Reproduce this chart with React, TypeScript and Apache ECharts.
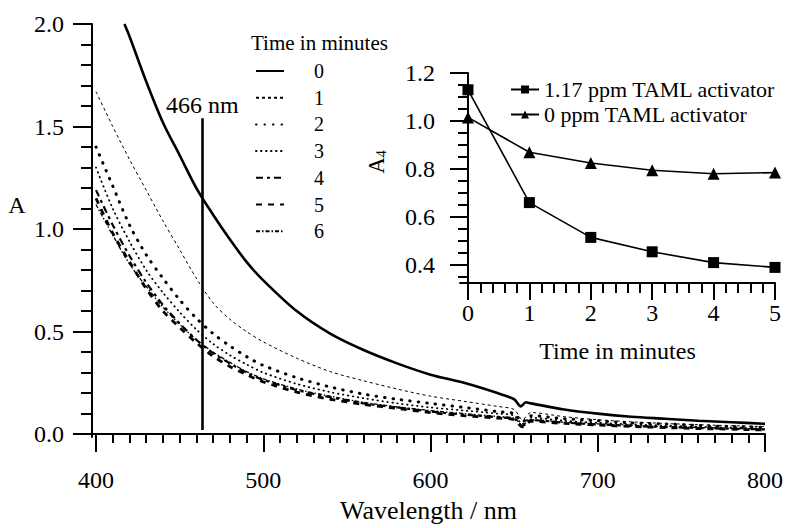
import React, { useEffect, useRef } from "react";
import * as echarts from "echarts";

// ---- Main spectra (absorbance vs wavelength) ----
const wavelengthsT0 = [417, 420, 430, 440, 450, 460, 470, 480, 490, 500, 520, 540, 560, 580, 600, 620, 640, 650, 654, 657, 660, 680, 700, 720, 740, 760, 780, 800];
const absT0 = [2.0, 1.94, 1.72, 1.52, 1.36, 1.2, 1.07, 0.95, 0.84, 0.75, 0.6, 0.49, 0.41, 0.345, 0.29, 0.25, 0.2, 0.17, 0.135, 0.155, 0.15, 0.12, 0.1, 0.085, 0.075, 0.065, 0.058, 0.05];

const wavelengths = [400, 410, 420, 430, 440, 450, 460, 470, 480, 490, 500, 520, 540, 560, 580, 600, 620, 640, 650, 655, 660, 680, 700, 720, 740, 760, 780, 800];
const absT1 = [1.67, 1.5, 1.34, 1.19, 1.04, 0.9, 0.76, 0.64, 0.56, 0.5, 0.45, 0.37, 0.305, 0.26, 0.22, 0.185, 0.16, 0.135, 0.12, 0.07, 0.105, 0.085, 0.07, 0.06, 0.052, 0.046, 0.041, 0.037];
const absT2 = [1.4, 1.21, 1.02, 0.875, 0.76, 0.655, 0.565, 0.49, 0.43, 0.378, 0.335, 0.275, 0.23, 0.195, 0.17, 0.15, 0.13, 0.11, 0.1, 0.06, 0.09, 0.075, 0.065, 0.055, 0.05, 0.042, 0.037, 0.033];
const absT3 = [1.3, 1.1, 0.94, 0.8, 0.69, 0.595, 0.51, 0.44, 0.385, 0.34, 0.3, 0.245, 0.205, 0.175, 0.15, 0.13, 0.115, 0.1, 0.09, 0.05, 0.08, 0.065, 0.055, 0.048, 0.042, 0.036, 0.032, 0.028];
const absT4 = [1.19, 1.02, 0.87, 0.74, 0.63, 0.54, 0.46, 0.395, 0.345, 0.3, 0.265, 0.215, 0.18, 0.15, 0.13, 0.11, 0.095, 0.082, 0.075, 0.04, 0.068, 0.056, 0.047, 0.04, 0.034, 0.03, 0.026, 0.023];
const absT5 = [1.15, 0.98, 0.84, 0.71, 0.6, 0.52, 0.445, 0.38, 0.33, 0.29, 0.255, 0.205, 0.17, 0.145, 0.125, 0.105, 0.09, 0.078, 0.07, 0.035, 0.062, 0.052, 0.044, 0.037, 0.032, 0.027, 0.024, 0.02];
const absT6 = [1.12, 0.97, 0.83, 0.72, 0.62, 0.535, 0.46, 0.4, 0.35, 0.305, 0.27, 0.22, 0.185, 0.155, 0.133, 0.115, 0.1, 0.086, 0.078, 0.045, 0.07, 0.058, 0.05, 0.043, 0.037, 0.032, 0.028, 0.025];

const timeNames = ["0", "1", "2", "3", "4", "5", "6"];

const markerWavelength = 463.5;
const markerRange = [0.02, 1.54];
const markerLabel = "466 nm";

const mainXMajor = [400, 500, 600, 700, 800];
const mainXMinor = [400, 410, 420, 430, 440, 450, 460, 470, 480, 490, 500, 510, 520, 530, 540, 550, 560, 570, 580, 590, 600, 610, 620, 630, 640, 650, 660, 670, 680, 690, 700, 710, 720, 730, 740, 750, 760, 770, 780, 790, 800];
const mainYMajor = [0, 0.5, 1.0, 1.5, 2.0];
const mainYMinor = [0, 0.1, 0.2, 0.3, 0.4, 0.5, 0.6, 0.7, 0.8, 0.9, 1.0, 1.1, 1.2, 1.3, 1.4, 1.5, 1.6, 1.7, 1.8, 1.9, 2.0];

// ---- Inset (A466 vs time) ----
const insetTimes = [0, 1, 2, 3, 4, 5];
const taml117 = [1.13, 0.66, 0.515, 0.455, 0.41, 0.39];
const taml0 = [1.015, 0.87, 0.825, 0.795, 0.78, 0.785];
const insetNames = ["1.17 ppm TAML activator", "0 ppm TAML activator"];

const insetXMajor = [0, 1, 2, 3, 4, 5];
const insetXMinor = [0, 0.2, 0.4, 0.6, 0.8, 1, 1.2, 1.4, 1.6, 1.8, 2, 2.2, 2.4, 2.6, 2.8, 3, 3.2, 3.4, 3.6, 3.8, 4, 4.2, 4.4, 4.6, 4.8, 5];
const insetYMajor = [0.4, 0.6, 0.8, 1.0, 1.2];
const insetYMinor = [0.35, 0.4, 0.45, 0.5, 0.55, 0.6, 0.65, 0.7, 0.75, 0.8, 0.85, 0.9, 0.95, 1.0, 1.05, 1.1, 1.15, 1.2];

const FONT = "'Liberation Serif', 'Times New Roman', 'DejaVu Serif', serif";

const zip = (xs: number[], ys: number[]) => xs.map((x, i) => [x, ys[i]]);

export default function App() {
  const ref = useRef<HTMLDivElement>(null);

  useEffect(() => {
    if (!ref.current) return;
    const chart = echarts.init(ref.current, null, { renderer: "svg" });

    const majorAxisCommon = (pos: string, gridIndex: number, min: number, max: number, major: number[], margin: number, tickLen: number, fmt: (v: number) => string) => ({
      type: "value",
      gridIndex,
      position: pos,
      min,
      max,
      splitLine: { show: false },
      axisLine: { show: true, lineStyle: { color: "#000", width: 2 } },
      axisTick: { show: true, customValues: major, length: tickLen, lineStyle: { color: "#000", width: 2 } },
      axisLabel: { show: true, customValues: major, margin, color: "#000", fontFamily: FONT, fontSize: 24, formatter: fmt },
    });
    const minorAxis = (pos: string, gridIndex: number, min: number, max: number, minor: number[], tickLen: number) => ({
      type: "value",
      gridIndex,
      position: pos,
      min,
      max,
      splitLine: { show: false },
      axisLine: { show: false },
      axisTick: { show: true, customValues: minor, length: tickLen, lineStyle: { color: "#000", width: 2 } },
      axisLabel: { show: false },
    });

    const mainXMin = 397.6;
    const mainYMin = -0.0146;
    const insetXMin = -0.13;
    const insetYMin = 0.325;

    const lineStyles: any[] = [
      { width: 2.6, type: "solid" },
      { width: 1, type: [3, 3] },
      { width: 3, type: [0.5, 8], cap: "round" },
      { width: 1.8, type: [0.5, 4.5], cap: "round" },
      { width: 2.2, type: [7, 4, 3, 4] },
      { width: 2.8, type: [6, 6] },
      { width: 1.3, type: [4, 2, 1.5, 2] },
    ];
    const mainData = [
      zip(wavelengthsT0, absT0),
      zip(wavelengths, absT1),
      zip(wavelengths, absT2),
      zip(wavelengths, absT3),
      zip(wavelengths, absT4),
      zip(wavelengths, absT5),
      zip(wavelengths, absT6),
    ];

    const mainSeries: any[] = mainData.map((d, i) => ({
      type: "line",
      name: timeNames[i],
      xAxisIndex: 0,
      yAxisIndex: 0,
      data: d,
      showSymbol: false,
      symbol: "none",
      smooth: 0.3,
      clip: false,
      lineStyle: { color: "#000", ...lineStyles[i] },
      itemStyle: { color: "#000" },
      z: 3,
      markLine:
        i === 0
          ? {
              silent: true,
              symbol: ["none", "none"],
              lineStyle: { color: "#000", width: 2.6, type: "solid" },
              label: { show: true, position: "end", distance: 1, formatter: markerLabel, color: "#000", fontFamily: FONT, fontSize: 24 },
              data: [[{ coord: [markerWavelength, markerRange[0]] }, { coord: [markerWavelength, markerRange[1]] }]],
            }
          : undefined,
    }));

    const insetSeries: any[] = [
      {
        type: "line",
        name: insetNames[0],
        xAxisIndex: 2,
        yAxisIndex: 2,
        data: zip(insetTimes, taml117),
        symbol: "rect",
        symbolSize: 11,
        clip: false,
        lineStyle: { color: "#000", width: 1.6 },
        itemStyle: { color: "#000" },
      },
      {
        type: "line",
        name: insetNames[1],
        xAxisIndex: 2,
        yAxisIndex: 2,
        data: zip(insetTimes, taml0),
        symbol: "triangle",
        symbolSize: 12,
        clip: false,
        lineStyle: { color: "#000", width: 1.6 },
        itemStyle: { color: "#000" },
      },
    ];

    const option: any = {
      animation: false,
      backgroundColor: "#fff",
      textStyle: { fontFamily: FONT, color: "#000" },
      grid: [
        { left: 92, right: 23, top: 24, bottom: 89, containLabel: false },
        { left: 460, right: 13, top: 73, bottom: 245, containLabel: false },
      ],
      xAxis: [
        {
          ...majorAxisCommon("bottom", 0, mainXMin, 800, mainXMajor, 31, 18, (v: number) => String(v)),
          name: "Wavelength / nm",
          nameLocation: "middle",
          nameGap: 59,
          nameTextStyle: { fontFamily: FONT, fontSize: 26, color: "#000" },
        },
        minorAxis("bottom", 0, mainXMin, 800, mainXMinor, 9),
        {
          ...majorAxisCommon("bottom", 1, insetXMin, 5, insetXMajor, 18, 17, (v: number) => String(v)),
          name: "Time in minutes",
          nameLocation: "middle",
          nameGap: 56,
          nameTextStyle: { fontFamily: FONT, fontSize: 24, color: "#000" },
        },
        minorAxis("bottom", 1, insetXMin, 5, insetXMinor, 10),
      ],
      yAxis: [
        majorAxisCommon("left", 0, mainYMin, 2.0, mainYMajor, 28, 19, (v: number) => v.toFixed(1)),
        minorAxis("left", 0, mainYMin, 2.0, mainYMinor, 11),
        majorAxisCommon("left", 1, insetYMin, 1.2, insetYMajor, 25, 18, (v: number) => v.toFixed(1)),
        minorAxis("left", 1, insetYMin, 1.2, insetYMinor, 10),
      ],
      legend: [
        {
          data: timeNames,
          orient: "vertical",
          left: 250,
          top: 56,
          itemWidth: 28,
          itemHeight: 14,
          itemGap: 6.7,
          selectedMode: false,
          itemStyle: { color: "transparent", borderColor: "transparent", borderWidth: 0, opacity: 0 },
          textStyle: { fontFamily: FONT, fontSize: 20, color: "#000", lineHeight: 14, padding: [0, 0, 0, 25] },
        },
        {
          data: insetNames,
          orient: "vertical",
          left: 505,
          top: 72,
          itemWidth: 28,
          itemHeight: 10,
          itemGap: 0,
          selectedMode: false,
          textStyle: { fontFamily: FONT, fontSize: 22, color: "#000", lineHeight: 25 },
        },
      ],
      graphic: [
        {
          type: "text",
          left: 251,
          top: 32,
          style: { text: "Time in minutes", fontFamily: FONT, fontSize: 21, fill: "#000" },
        },
        {
          type: "text",
          x: 17,
          y: 205,
          style: { text: "A", fontFamily: FONT, fontSize: 24, fill: "#000", align: "center", verticalAlign: "middle" },
        },
        {
          type: "text",
          x: 376,
          y: 162,
          rotation: Math.PI / 2,
          style: {
            text: "{a|A}{s|4}",
            align: "center",
            verticalAlign: "middle",
            fill: "#000",
            rich: {
              a: { fontFamily: FONT, fontSize: 23, fill: "#000", color: "#000" },
              s: { fontFamily: FONT, fontSize: 14, fill: "#000", color: "#000", padding: [10, 0, 0, 0] },
            },
          },
        },
      ],
      series: [...mainSeries, ...insetSeries],
    };

    chart.setOption(option);
    return () => chart.dispose();
  }, []);

  return <div ref={ref} style={{ width: 788, height: 528, position: "absolute", left: 0, top: 0 }} />;
}
